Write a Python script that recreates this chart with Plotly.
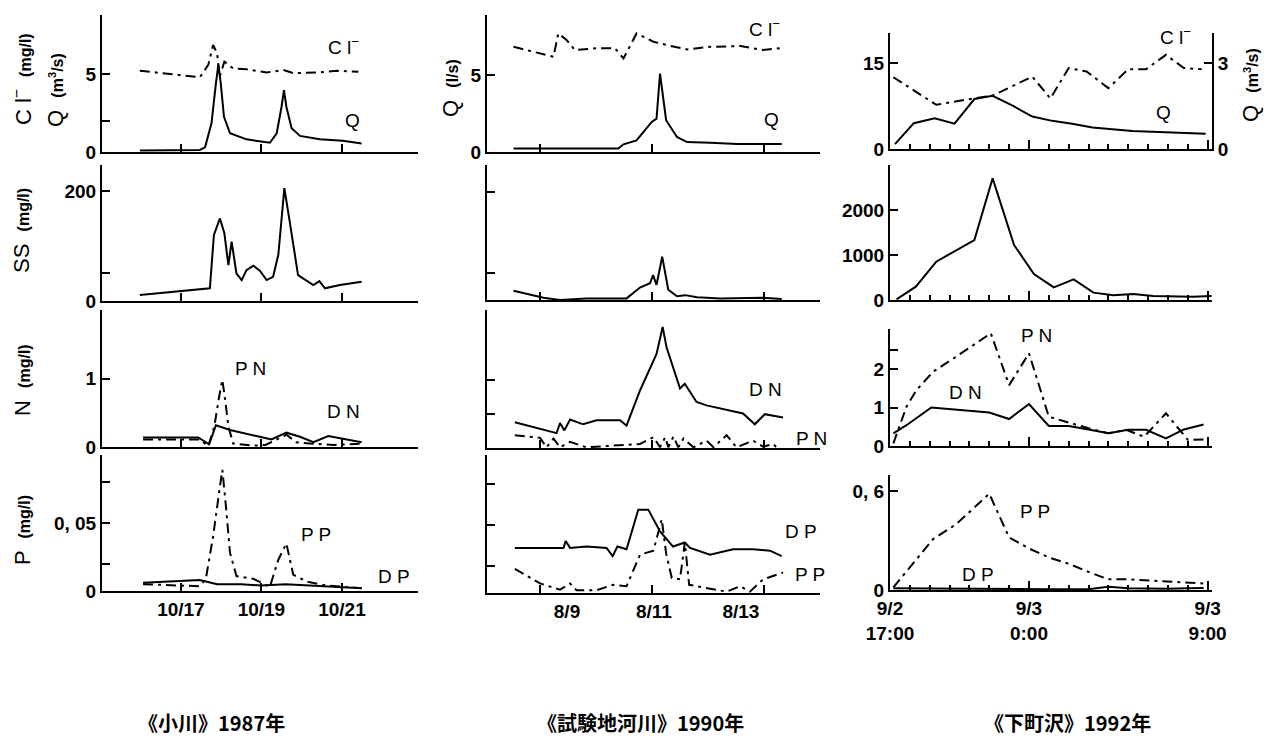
import plotly.graph_objects as go

W, H = 1275, 753

# ---------------- data ----------------
# 《小川》1987 : x = day of October
ogawa_q_day = [15.98, 17.47, 17.6, 17.76, 17.87, 17.93, 17.99, 18.07, 18.22, 18.63, 19.21, 19.38, 19.5, 19.56, 19.62, 19.75, 19.96, 20.45, 21.02, 21.49]
ogawa_q = [0.1, 0.13, 0.3, 1.84, 4.4, 5.6, 4.4, 2.26, 1.2, 0.81, 0.59, 1.2, 2.9, 3.97, 2.9, 1.52, 1.03, 0.81, 0.72, 0.55]
ogawa_cl_day = [15.98, 17.47, 17.68, 17.8, 17.9, 17.96, 18.08, 18.3, 18.63, 19.13, 19.55, 19.8, 20.45, 20.87, 21.41]
ogawa_cl = [5.21, 4.79, 5.58, 6.86, 6.32, 4.8, 5.79, 5.35, 5.3, 5.1, 5.25, 5.05, 5.1, 5.2, 5.15]
ogawa_ss_day = [15.98, 17.72, 17.82, 17.97, 18.08, 18.18, 18.26, 18.38, 18.51, 18.63, 18.8, 18.96, 19.13, 19.29, 19.42, 19.57, 19.71, 19.91, 20.29, 20.44, 20.58, 20.95, 21.49]
ogawa_ss = [11, 23, 120, 150, 123, 65, 108, 50, 38, 56, 64, 55, 38, 44, 84, 205, 141, 47, 29, 36, 23, 29, 35]
ogawa_pn_day = [16.06, 17.47, 17.68, 17.83, 17.95, 18.03, 18.1, 18.18, 18.3, 18.8, 19.1, 19.62, 19.87, 20.2, 20.8, 21.49]
ogawa_pn = [0.11, 0.11, 0.01, 0.3, 0.74, 0.985, 0.69, 0.3, 0.05, 0.02, 0.03, 0.18, 0.07, 0.05, 0.03, 0.05]
ogawa_dn_day = [16.06, 17.43, 17.7, 17.87, 18.22, 18.63, 18.96, 19.25, 19.62, 19.96, 20.29, 20.66, 21.12, 21.49]
ogawa_dn = [0.14, 0.14, 0.04, 0.32, 0.25, 0.2, 0.15, 0.11, 0.21, 0.15, 0.07, 0.16, 0.11, 0.07]
ogawa_pp_day = [16.06, 17.47, 17.62, 17.8, 17.97, 18.03, 18.12, 18.22, 18.38, 18.8, 19.21, 19.42, 19.62, 19.79, 20.12, 20.62, 21.49]
ogawa_pp = [0.005, 0.0035, 0.009, 0.04, 0.077, 0.089, 0.062, 0.028, 0.011, 0.009, 0.003, 0.023, 0.035, 0.012, 0.007, 0.004, 0.002]
ogawa_dp_day = [16.06, 17.0, 17.47, 17.9, 18.5, 19.0, 19.6, 20.2, 20.8, 21.49]
ogawa_dp = [0.006, 0.007, 0.008, 0.005, 0.005, 0.004, 0.005, 0.004, 0.003, 0.002]
ogawa_ticks = [17, 19, 21]
ogawa_labels = ["10/17", "10/19", "10/21"]

# 《試験地河川》1990 : x = day of August
shiken_q_day = [7.77, 10.18, 10.3, 10.6, 10.95, 11.06, 11.14, 11.28, 11.53, 11.76, 12.3, 12.91, 13.94]
shiken_q = [0.22, 0.22, 0.5, 0.75, 1.96, 2.17, 5.11, 2.07, 0.98, 0.65, 0.6, 0.52, 0.52]
shiken_cl_day = [7.77, 8.69, 8.8, 8.99, 9.18, 9.68, 10.1, 10.3, 10.6, 10.99, 11.3, 11.76, 12.3, 12.99, 13.51, 13.9]
shiken_cl = [6.85, 6.2, 7.72, 7.3, 6.64, 6.76, 6.76, 6.09, 7.72, 7.18, 6.96, 6.68, 6.85, 6.9, 6.64, 6.76]
shiken_ss_day = [7.77, 8.46, 8.84, 9.45, 10.37, 10.68, 10.91, 10.98, 11.06, 11.19, 11.33, 11.53, 11.72, 11.99, 12.53, 13.51, 13.94]
shiken_ss = [17, 4, 0, 3, 3, 23, 31, 46, 28, 80, 19, 7, 9, 5, 3, 4, 2]
shiken_dn_day = [7.80, 8.76, 8.84, 8.94, 9.07, 9.37, 9.68, 10.22, 10.37, 10.68, 11.06, 11.2, 11.29, 11.6, 11.71, 11.98, 12.21, 12.67, 13.05, 13.32, 13.55, 13.97]
shiken_dn = [0.38, 0.22, 0.37, 0.26, 0.42, 0.35, 0.41, 0.41, 0.33, 0.85, 1.39, 1.79, 1.49, 0.88, 0.95, 0.68, 0.63, 0.57, 0.51, 0.35, 0.5, 0.45]
shiken_pn_day = [7.80, 8.38, 8.53, 8.69, 8.84, 9.07, 9.45, 10.22, 10.68, 10.99, 11.14, 11.26, 11.33, 11.45, 11.56, 11.68, 11.91, 12.21, 12.37, 12.67, 12.9, 13.28, 13.51, 13.74, 13.82]
shiken_pn = [0.19, 0.15, 0.01, 0.14, 0.01, 0.09, 0.01, 0.04, 0.06, 0.16, 0.01, 0.16, 0.01, 0.17, 0.01, 0.14, 0.01, 0.11, 0.01, 0.19, 0.01, 0.11, 0.02, 0.06, 0.01]
shiken_dp_day = [7.80, 8.92, 8.97, 9.07, 9.45, 9.91, 10.05, 10.16, 10.37, 10.64, 10.87, 11.14, 11.44, 11.71, 11.83, 12.29, 12.82, 13.28, 13.67, 13.94]
shiken_dp = [0.033, 0.033, 0.038, 0.033, 0.034, 0.033, 0.027, 0.034, 0.032, 0.061, 0.061, 0.045, 0.034, 0.037, 0.033, 0.028, 0.032, 0.032, 0.031, 0.027]
shiken_pp_day = [7.80, 8.38, 8.84, 9.07, 9.22, 9.68, 10.06, 10.37, 10.68, 10.99, 11.18, 11.28, 11.41, 11.6, 11.71, 11.81, 12.14, 12.67, 12.98, 13.21, 13.51, 13.97]
shiken_pp = [0.0176, 0.007, 0.0024, 0.007, 0.002, 0.002, 0.006, 0.005, 0.028, 0.031, 0.054, 0.029, 0.011, 0.010, 0.037, 0.006, 0.004, 0.001, 0.005, 0.001, 0.010, 0.015]
shiken_ticks = [9, 11, 13]
shiken_labels = ["8/9", "8/11", "8/13"]

# 《下町沢》1992 : x = hours after 9/2 17:00
shimo_cl_h = [0.17, 2.33, 4.17, 5.17, 7.17, 8.08, 9.0, 9.9, 11.0, 12.0, 12.9, 13.9, 14.8, 15.7]
shimo_cl = [12.5, 7.7, 8.8, 9.3, 12.6, 8.8, 14.1, 13.5, 10.6, 13.9, 13.9, 16.4, 14.1, 13.9]
shimo_q_h = [0.25, 1.2, 2.25, 3.25, 4.25, 5.17, 6.2, 7.17, 8.17, 9.17, 10.2, 11.2, 12.2, 13.2, 14.2, 15.2, 15.9]
shimo_q = [0.17, 0.9, 1.07, 0.88, 1.74, 1.85, 1.5, 1.13, 0.98, 0.88, 0.75, 0.69, 0.63, 0.6, 0.57, 0.55, 0.53]
shimo_ss_h = [0.33, 1.3, 2.33, 3.25, 4.25, 5.17, 6.25, 7.25, 8.25, 9.25, 10.25, 11.25, 12.25, 13.25, 14.25, 15.25, 16.2]
shimo_ss = [15, 296, 852, 1074, 1333, 2704, 1222, 578, 281, 459, 163, 104, 133, 89, 74, 74, 89]
shimo_pn_h = [0.17, 0.83, 1.33, 2.17, 3.33, 5.08, 6.0, 7.0, 8.0, 9.0, 10.0, 11.0, 11.9, 12.8, 13.9, 15.0, 15.8]
shimo_pn = [0.07, 1.02, 1.45, 1.93, 2.32, 2.93, 1.58, 2.41, 0.76, 0.6, 0.46, 0.33, 0.42, 0.24, 0.85, 0.16, 0.17]
shimo_dn_h = [0.17, 0.83, 2.08, 3.5, 5.0, 6.0, 7.0, 8.0, 9.0, 10.0, 11.0, 12.0, 12.9, 13.9, 14.8, 15.8]
shimo_dn = [0.33, 0.54, 1.0, 0.94, 0.87, 0.7, 1.09, 0.52, 0.52, 0.43, 0.33, 0.42, 0.42, 0.2, 0.43, 0.56]
shimo_pp_h = [0.17, 2.17, 3.33, 5.0, 6.0, 7.0, 8.0, 9.0, 10.0, 11.0, 12.0, 12.9, 13.9, 15.0, 15.8]
shimo_pp = [0.016, 0.31, 0.40, 0.586, 0.32, 0.253, 0.198, 0.16, 0.11, 0.065, 0.065, 0.06, 0.055, 0.045, 0.04]
shimo_dp_h = [0.17, 2.0, 4.0, 6.0, 8.0, 10.0, 11.0, 12.0, 13.0, 14.0, 15.0, 15.8]
shimo_dp = [0.01, 0.008, 0.006, 0.006, 0.005, 0.005, 0.02, 0.01, 0.008, 0.008, 0.01, 0.012]
shimo_ticks = [0, 7, 16]
shimo_labels = ["9/2<br>17:00", "9/3<br>0:00", "9/3<br>9:00"]

titles = ["《小川》1987年", "《試験地河川》1990年", "《下町沢》1992年"]

# ---------------- layout helpers ----------------
def xd(l, r):
    return [l / W, r / W]

def yd(t, b):
    return [1 - b / H, 1 - t / H]

def px(x):
    return x / W

def py(y):
    return 1 - y / H

TICKFONT = dict(family="Liberation Sans Narrow, Arial Narrow, Liberation Sans, sans-serif", size=19, color="black", weight="bold")
LBLFONT = dict(family="Liberation Sans, Arial, sans-serif", size=19, color="black")
SOLID = dict(color="black", width=2)
DASHDOT = dict(color="black", width=2, dash="10px,5px,3px,5px")

col_x = [(102, 418), (487, 820), (890, 1212)]
col_xrange = [[15.04, 22.89], [7.16, 14.82], [0, 16.22]]
row_y = [
    [(15, 152), (165, 301), (310, 447), (455, 591)],
    [(15, 152), (165, 300), (310, 448), (455, 593)],
    [(33, 149), (165, 300), (329, 446), (475, 590)],
]
yranges = [
    [[0, 8.78], [0, 247], [0, 2.01], [0, 0.1]],
    [[0, 8.92], [0, 250], [0, 2.04], [0, 0.101]],
    [[0, 20.2], [0, 3000], [0, 3.04], [0, 0.70]],
]
ytickvals = [
    [[0, 2, 5], [0, 50, 200], [0, 1], [0, 0.02, 0.05, 0.08]],
    [[0, 5], [50, 200], [0.5, 1], [0.02, 0.05, 0.08]],
    [[0, 15], [0, 1000, 2000], [0, 1, 2, 2.5], [0, 0.6]],
]
yticktext = [
    [["0", "", "5"], ["0", "", "200"], ["0", "1"], ["0", "", "0, 05", ""]],
    [["0", "5"], ["", ""], ["", ""], ["", "", ""]],
    [["0", "15"], ["0", "1000", "2000"], ["0", "1", "2", ""], ["0", "0, 6"]],
]

fig = go.Figure()
layout = {}

def axid(col, row):
    return row * 3 + col + 1

for c in range(3):
    for r in range(4):
        i = axid(c, r)
        xk = "xaxis" if i == 1 else f"xaxis{i}"
        yk = "yaxis" if i == 1 else f"yaxis{i}"
        xa = dict(domain=xd(*col_x[c]), range=col_xrange[c], anchor=f"y{i}" if i > 1 else "y",
                  automargin=False,
                  showline=True, linecolor="black", linewidth=2, showgrid=False, zeroline=False,
                  tickfont=TICKFONT, tickcolor="black", tickwidth=2)
        if c == 0:
            xa.update(tickmode="array", tickvals=ogawa_ticks, ticks="inside", ticklen=8,
                      ticktext=ogawa_labels if r == 3 else [""] * 3)
        elif c == 1:
            xa.update(tickmode="array", tickvals=shiken_ticks, ticks="",
                      ticktext=shiken_labels if r == 3 else [""] * 3,
                      minor=dict(tickmode="array", tickvals=[8.38, 10.95, 13.53], ticks="inside",
                                 ticklen=8, tickwidth=2, tickcolor="black"))
        else:
            xa.update(tickmode="array", tickvals=shimo_ticks, ticks="inside", ticklen=9,
                      ticktext=shimo_labels if r == 3 else [""] * 3,
                      minor=dict(tick0=0, dtick=1, ticks="inside", ticklen=5, tickwidth=2, tickcolor="black"))
        ya = dict(domain=yd(*row_y[c][r]), range=yranges[c][r], anchor=f"x{i}" if i > 1 else "x",
                  automargin=False,
                  showline=True, linecolor="black", linewidth=2, showgrid=False, zeroline=False,
                  tickmode="array", tickvals=ytickvals[c][r], ticktext=yticktext[c][r],
                  ticks="inside", ticklen=8, tickwidth=2, tickcolor="black", tickfont=TICKFONT)
        layout[xk] = xa
        layout[yk] = ya

# right axis for Q in 下町沢
layout["yaxis13"] = dict(domain=yd(*row_y[2][0]), range=[0, 4.04], overlaying="y3", side="right",
                         anchor="x3", automargin=False, showline=True, linecolor="black", linewidth=2,
                         showgrid=False, zeroline=False, tickmode="array", tickvals=[0, 3], ticktext=["0", "3"],
                         ticks="inside", ticklen=8, tickwidth=2, tickcolor="black", tickfont=TICKFONT)

def add(x, y, col, row, line, yaxis=None):
    i = axid(col, row)
    fig.add_trace(go.Scatter(x=x, y=y, mode="lines", line=line, showlegend=False,
                             xaxis="x" if i == 1 else f"x{i}",
                             yaxis=yaxis or ("y" if i == 1 else f"y{i}")))

# 小川
add(ogawa_cl_day, ogawa_cl, 0, 0, DASHDOT)
add(ogawa_q_day, ogawa_q, 0, 0, SOLID)
add(ogawa_ss_day, ogawa_ss, 0, 1, SOLID)
add(ogawa_pn_day, ogawa_pn, 0, 2, DASHDOT)
add(ogawa_dn_day, ogawa_dn, 0, 2, SOLID)
add(ogawa_pp_day, ogawa_pp, 0, 3, DASHDOT)
add(ogawa_dp_day, ogawa_dp, 0, 3, SOLID)
# 試験地河川
add(shiken_cl_day, shiken_cl, 1, 0, DASHDOT)
add(shiken_q_day, shiken_q, 1, 0, SOLID)
add(shiken_ss_day, shiken_ss, 1, 1, SOLID)
add(shiken_pn_day, shiken_pn, 1, 2, DASHDOT)
add(shiken_dn_day, shiken_dn, 1, 2, SOLID)
add(shiken_pp_day, shiken_pp, 1, 3, DASHDOT)
add(shiken_dp_day, shiken_dp, 1, 3, SOLID)
# 下町沢
add(shimo_cl_h, shimo_cl, 2, 0, DASHDOT)
add(shimo_q_h, shimo_q, 2, 0, SOLID, yaxis="y13")
add(shimo_ss_h, shimo_ss, 2, 1, SOLID)
add(shimo_pn_h, shimo_pn, 2, 2, DASHDOT)
add(shimo_dn_h, shimo_dn, 2, 2, SOLID)
add(shimo_pp_h, shimo_pp, 2, 3, DASHDOT)
add(shimo_dp_h, shimo_dp, 2, 3, SOLID)

ann = []

def lab(text, x, y, font=LBLFONT, angle=0):
    ann.append(dict(text=text, x=px(x), y=py(y), xref="paper", yref="paper", showarrow=False,
                    xanchor="center", yanchor="middle", font=font, textangle=angle))

CL = "C l<sup>−</sup>"
# series labels
for t, x, y in [(CL, 343, 46), ("Q", 352, 121), ("P N", 250, 368), ("D N", 343, 412), ("P P", 316, 534), ("D P", 394, 576),
                (CL, 764, 28), ("Q", 771, 120), ("D N", 765, 389), ("P N", 811, 438), ("D P", 801, 531), ("P P", 810, 574),
                (CL, 1175, 36), ("Q", 1163, 113), ("P N", 1036, 335), ("D N", 965, 392), ("P P", 1035, 512), ("D P", 978, 574)]:
    lab(t, x, y)

# axis titles (rotated)
TITLEF = dict(family="Liberation Sans, Arial, sans-serif", size=22, color="black")
SM = "<span style='font-size:16px;font-weight:bold'>"
lab(CL + "  " + SM + "(mg/l)</span>", 22, 79, TITLEF, -90)
lab("Q  " + SM + "(m<sup>3</sup>/s)</span>", 55, 90, TITLEF, -90)
lab("SS  " + SM + "(mg/l)</span>", 22, 231, TITLEF, -90)
lab("N  " + SM + "(mg/l)</span>", 22, 380, TITLEF, -90)
lab("P  " + SM + "(mg/l)</span>", 22, 530, TITLEF, -90)
lab("Q  " + SM + "(l/s)</span>", 450, 88, TITLEF, -90)
lab("Q  " + SM + "(m<sup>3</sup>/s)</span>", 1250, 85, TITLEF, -90)

# bottom titles
BF = dict(family="Noto Sans CJK JP", size=20, color="black", weight="bold")
for t, x in zip(titles, [212, 640, 1067]):
    lab(t, x, 722, BF)

fig.update_layout(width=W, height=H, margin=dict(l=0, r=0, t=0, b=0),
                  paper_bgcolor="white", plot_bgcolor="white", annotations=ann, **layout)

fig.write_html("out.html", config={"displayModeBar": False},
               post_script="document.body.style.margin='0';document.body.style.overflow='hidden';")
